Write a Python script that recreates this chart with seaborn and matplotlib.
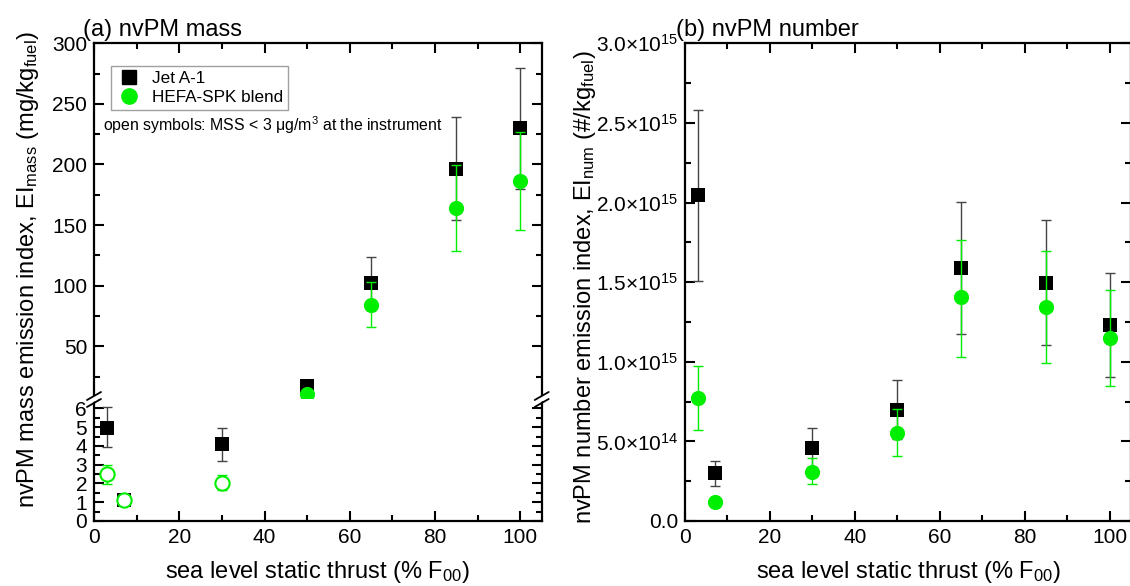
import numpy as np
import pandas as pd
import seaborn as sns
import matplotlib.pyplot as plt
from matplotlib.lines import Line2D
from matplotlib.ticker import MultipleLocator, FixedLocator, FixedFormatter

thrust = [3, 7, 30, 50, 65, 85, 100]

# nvPM mass EI (mg/kg fuel)
mass_jet = [4.95, 1.1, 4.1, 17.5, 102.5, 196.6, 229.7]
mass_jet_lo = [3.92, 0.98, 3.19, 17.2, 80.0, 154.0, 180.0]
mass_jet_hi = [6.05, 1.25, 4.97, 17.8, 124.0, 239.0, 279.3]
mass_hefa = [2.48, 1.12, 2.05, 10.3, 84.4, 163.7, 186.6]
mass_hefa_lo = [1.96, 1.0, 1.64, 10.0, 66.0, 128.7, 146.3]
mass_hefa_hi = [2.99, 1.25, 2.44, 10.6, 103.0, 199.3, 226.6]
hefa_open = [True, True, True, False, False, False, False]

# nvPM number EI (#/kg fuel)
num_jet = [2.046e15, 0.303e15, 0.46e15, 0.697e15, 1.59e15, 1.496e15, 1.23e15]
num_jet_lo = [1.507e15, 0.222e15, 0.338e15, 0.515e15, 1.172e15, 1.105e15, 0.906e15]
num_jet_hi = [2.584e15, 0.379e15, 0.582e15, 0.883e15, 2.004e15, 1.891e15, 1.555e15]
num_hefa = [0.77e15, 0.121e15, 0.308e15, 0.554e15, 1.408e15, 1.341e15, 1.147e15]
num_hefa_lo = [0.569e15, 0.121e15, 0.23e15, 0.41e15, 1.031e15, 0.99e15, 0.848e15]
num_hefa_hi = [0.973e15, 0.121e15, 0.394e15, 0.701e15, 1.764e15, 1.697e15, 1.448e15]

num_ticks = [0, 0.5e15, 1.0e15, 1.5e15, 2.0e15, 2.5e15, 3.0e15]
num_ticklabels = ['0.0', r'5.0$\times$10$^{14}$', r'1.0$\times$10$^{15}$',
                  r'1.5$\times$10$^{15}$', r'2.0$\times$10$^{15}$',
                  r'2.5$\times$10$^{15}$', r'3.0$\times$10$^{15}$']

sns.set_theme(style='ticks')
plt.rcParams['font.family'] = ['Liberation Sans', 'DejaVu Sans']
plt.rcParams['mathtext.fontset'] = 'custom'
plt.rcParams['mathtext.rm'] = 'Liberation Sans'
plt.rcParams['mathtext.it'] = 'Liberation Sans:italic'
plt.rcParams['mathtext.default'] = 'regular'
plt.rcParams['text.color'] = 'black'
plt.rcParams['axes.labelcolor'] = 'black'
plt.rcParams['axes.edgecolor'] = 'black'
plt.rcParams['xtick.color'] = 'black'
plt.rcParams['ytick.color'] = 'black'

GREEN = '#00ee00'
TICK_FS = 15
LAB_FS = 17

mass = pd.DataFrame({'thrust': thrust, 'jet': mass_jet, 'jet_lo': mass_jet_lo,
                     'jet_hi': mass_jet_hi, 'hefa': mass_hefa,
                     'hefa_lo': mass_hefa_lo, 'hefa_hi': mass_hefa_hi,
                     'open': hefa_open})
num = pd.DataFrame({'thrust': thrust, 'jet': num_jet, 'jet_lo': num_jet_lo,
                    'jet_hi': num_jet_hi, 'hefa': num_hefa,
                    'hefa_lo': num_hefa_lo, 'hefa_hi': num_hefa_hi})

fig = plt.figure(figsize=(11.3, 5.86), dpi=100)
W, H = 1130, 586
ax_up = fig.add_axes([94 / W, 1 - 399 / H, 447.7 / W, (399 - 43.3) / H])
ax_lo = fig.add_axes([94 / W, 1 - 521 / H, 447.7 / W, (521 - 399) / H])
ax_n = fig.add_axes([685 / W, 1 - 521 / H, 446 / W, (521 - 43.3) / H])

BREAK = 6.5


def draw_points(ax, d, open_mask=None):
    ax.errorbar(d['thrust'], d['jet'],
                yerr=[d['jet'] - d['jet_lo'], d['jet_hi'] - d['jet']],
                fmt='none', ecolor='#444444', elinewidth=1, capsize=3.8,
                capthick=1, zorder=2)
    sns.scatterplot(data=d, x='thrust', y='jet', marker='s', s=95,
                    color='black', edgecolor='black', linewidth=0, ax=ax,
                    zorder=3, legend=False)
    ax.errorbar(d['thrust'], d['hefa'],
                yerr=[d['hefa'] - d['hefa_lo'], d['hefa_hi'] - d['hefa']],
                fmt='none', ecolor=GREEN, elinewidth=1, capsize=3.8,
                capthick=1, zorder=4)
    if open_mask is None:
        filled = d
        hollow = d.iloc[0:0]
    else:
        filled = d[~open_mask]
        hollow = d[open_mask]
    if len(filled):
        sns.scatterplot(data=filled, x='thrust', y='hefa', marker='o', s=120,
                        color=GREEN, edgecolor=GREEN, linewidth=0, ax=ax,
                        zorder=5, legend=False)
    if len(hollow):
        sns.scatterplot(data=hollow, x='thrust', y='hefa', marker='o', s=105,
                        facecolor='white', edgecolor=GREEN, linewidth=1.5,
                        ax=ax, zorder=5, legend=False)


lo = mass[mass['jet'] < BREAK]
up = mass[mass['jet'] >= BREAK]
draw_points(ax_lo, lo, lo['open'].values)
draw_points(ax_up, up, up['open'].values)
draw_points(ax_n, num)

for ax in (ax_up, ax_lo, ax_n):
    ax.set_xlim(0, 105)
    ax.xaxis.set_major_locator(MultipleLocator(20))
    ax.xaxis.set_minor_locator(MultipleLocator(10))
    ax.tick_params(which='both', direction='in', top=True, right=True,
                   labelsize=TICK_FS, width=1.5, pad=5)
    ax.tick_params(which='major', length=7)
    ax.tick_params(which='minor', length=4)
    for s in ax.spines.values():
        s.set_linewidth(1.6)
        s.set_color('black')
    ax.set_xlabel('')
    ax.set_ylabel('')

ax_up.set_ylim(BREAK, 300)
ax_up.yaxis.set_major_locator(FixedLocator([50, 100, 150, 200, 250, 300]))
ax_up.yaxis.set_minor_locator(FixedLocator([25, 75, 125, 175, 225, 275]))
ax_up.spines['bottom'].set_visible(False)
ax_up.tick_params(which='both', bottom=False, labelbottom=False)

ax_lo.set_ylim(0, BREAK)
ax_lo.yaxis.set_major_locator(MultipleLocator(1))
ax_lo.yaxis.set_minor_locator(MultipleLocator(0.5))
ax_lo.spines['top'].set_visible(False)
ax_lo.tick_params(which='both', top=False)
ax_lo.set_xlabel(r'sea level static thrust (% F$_{00}$)', fontsize=LAB_FS,
                 labelpad=9)

# break marks on the left axis
for xa in (0, 1):
    x0, y0 = ax_lo.transAxes.transform((xa, 1))
    pts = fig.transFigure.inverted().transform(
        [(x0 - 6, y0 - 3), (x0 + 6, y0 + 3)])
    fig.add_artist(Line2D(pts[:, 0], pts[:, 1], color='white', lw=3.5))
    for dy in (-4, 3):
        pts = fig.transFigure.inverted().transform(
            [(x0 - 7, y0 + dy - 4), (x0 + 7, y0 + dy + 4)])
        fig.add_artist(Line2D(pts[:, 0], pts[:, 1], color='black', lw=1.3))

ax_up.set_title('(a) nvPM mass', loc='left', fontsize=LAB_FS, pad=5, x=-0.025)
fig.text(28 / W, 1 - 270 / H,
         r'nvPM mass emission index, EI$_{mass}$ (mg/kg$_{fuel}$)',
         rotation=90, ha='center', va='center', fontsize=LAB_FS)

handles = [Line2D([], [], marker='s', ls='none', color='black', ms=10),
           Line2D([], [], marker='o', ls='none', color=GREEN, ms=11)]
leg = ax_up.legend(handles, ['Jet A-1', 'HEFA-SPK blend'], loc='upper left',
                   bbox_to_anchor=(0.018, 0.96), fontsize=12.3, frameon=True,
                   fancybox=False, edgecolor='#888888', handletextpad=0.6,
                   borderpad=0.3, labelspacing=0.2, handlelength=1.5)
leg.get_frame().set_linewidth(1)
ax_up.text(0.02, 0.77,
           r'open symbols: MSS < 3 $\mu$g/m$^{3}$ at the instrument',
           transform=ax_up.transAxes, fontsize=11.4, va='center', ha='left')

ax_n.set_ylim(0, 3.0e15)
ax_n.yaxis.set_major_locator(FixedLocator(num_ticks))
ax_n.yaxis.set_major_formatter(FixedFormatter(num_ticklabels))
ax_n.yaxis.set_minor_locator(MultipleLocator(0.25e15))
ax_n.yaxis.get_offset_text().set_visible(False)
ax_n.set_xlabel(r'sea level static thrust (% F$_{00}$)', fontsize=LAB_FS,
                labelpad=9)
ax_n.set_ylabel(r'nvPM number emission index, EI$_{num}$ (#/kg$_{fuel}$)',
                fontsize=LAB_FS)
ax_n.yaxis.set_label_coords(-0.195, 0.49)
ax_n.set_title('(b) nvPM number', loc='left', fontsize=LAB_FS, pad=5,
               x=-0.02)

fig.savefig('out.png', dpi=100)
